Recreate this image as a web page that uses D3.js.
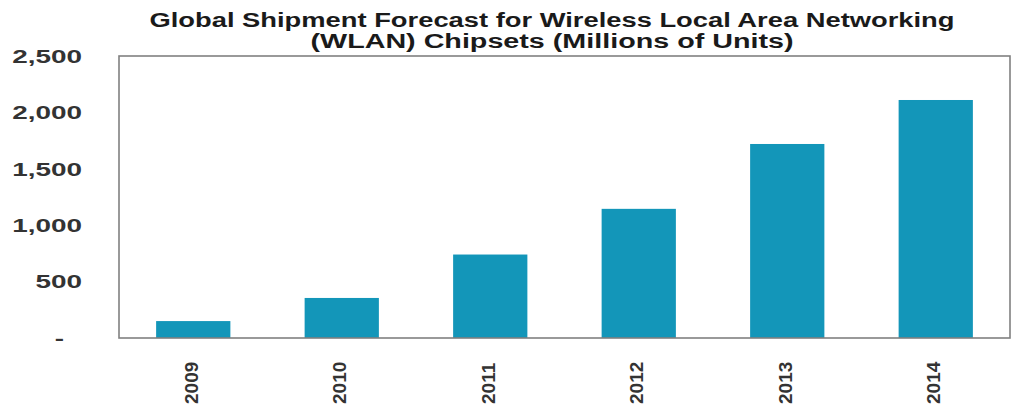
<!DOCTYPE html>
<html>
<head>
<meta charset="utf-8">
<script src="https://cdn.jsdelivr.net/npm/d3@7"></script>
<style>
  body { margin: 0; background: #fff; }
  text { font-family: Arial, "Liberation Sans", sans-serif; }
</style>
</head>
<body>
<svg id="chart"></svg>
<script>
// data (millions of units)
const years = ['2009', '2010', '2011', '2012', '2013', '2014'];
const shipments = [150, 355, 740, 1145, 1720, 2110];
const yTicks = [0, 500, 1000, 1500, 2000, 2500];
const titleLines = [
  'Global Shipment Forecast for Wireless Local Area Networking',
  '(WLAN) Chipsets (Millions of Units)'
];

const config = {
  width: 1013,
  height: 406,
  margin: {top: 56, right: 3, bottom: 68, left: 119}
};

const innerW = config.width - config.margin.left - config.margin.right;
const innerH = config.height - config.margin.top - config.margin.bottom;

const svg = d3.select('#chart')
    .attr('width', config.width)
    .attr('height', config.height);

const chart = svg.append('g')
    .attr('transform', `translate(${config.margin.left},${config.margin.top})`);

const xScale = d3.scaleBand()
    .domain(years)
    .range([0, innerW])
    .paddingInner(0.5)
    .paddingOuter(0.25);

const yScale = d3.scaleLinear()
    .domain([0, 2500])
    .range([innerH, 0]);

// bars
chart.selectAll('.bar')
    .data(years.map((y, i) => ({year: y, value: shipments[i]})))
  .join('rect')
    .attr('class', 'bar')
    .attr('x', d => xScale(d.year))
    .attr('width', xScale.bandwidth())
    .attr('y', d => yScale(d.value))
    .attr('height', d => innerH - yScale(d.value))
    .attr('fill', '#1396b9');

// plot frame
chart.append('rect')
    .attr('width', innerW)
    .attr('height', innerH)
    .attr('fill', 'none')
    .attr('stroke', '#808080')
    .attr('stroke-width', 1.6);

// y axis, labels stretched like the source image
const yAxisG = chart.append('g')
    .call(d3.axisLeft(yScale)
      .tickValues(yTicks)
      .tickSize(0)
      .tickFormat(d => d === 0 ? '-' : d3.format(',')(d)));
yAxisG.select('.domain').remove();
yAxisG.selectAll('text')
    .attr('x', 0)
    .attr('dy', '0.35em')
    .attr('fill', '#333')
    .style('font-size', '18px')
    .style('font-weight', 'bold')
    .style('text-anchor', 'end')
    .attr('transform', d => `translate(${d === 0 ? -55 : -37},0) scale(1.55,1)`);

// x axis, rotated year labels
const xAxisG = chart.append('g')
    .attr('transform', `translate(0,${innerH})`)
    .call(d3.axisBottom(xScale).tickSize(0));
xAxisG.select('.domain').remove();
xAxisG.selectAll('text')
    .attr('x', 0)
    .attr('y', 0)
    .attr('dy', '0.35em')
    .attr('fill', '#333')
    .style('font-size', '19px')
    .style('font-weight', 'bold')
    .style('text-anchor', 'start')
    .attr('transform', 'translate(-2,66) rotate(-90)');

// title
svg.selectAll('.title')
    .data(titleLines)
  .join('text')
    .attr('class', 'title')
    .attr('x', 552)
    .attr('y', (d, i) => 27 + i * 21)
    .attr('textLength', (d, i) => i === 0 ? 805 : 483)
    .attr('lengthAdjust', 'spacingAndGlyphs')
    .style('text-anchor', 'middle')
    .style('font-size', '20px')
    .style('font-weight', 'bold')
    .attr('fill', '#1a1a1a')
    .text(d => d);
</script>
</body>
</html>
